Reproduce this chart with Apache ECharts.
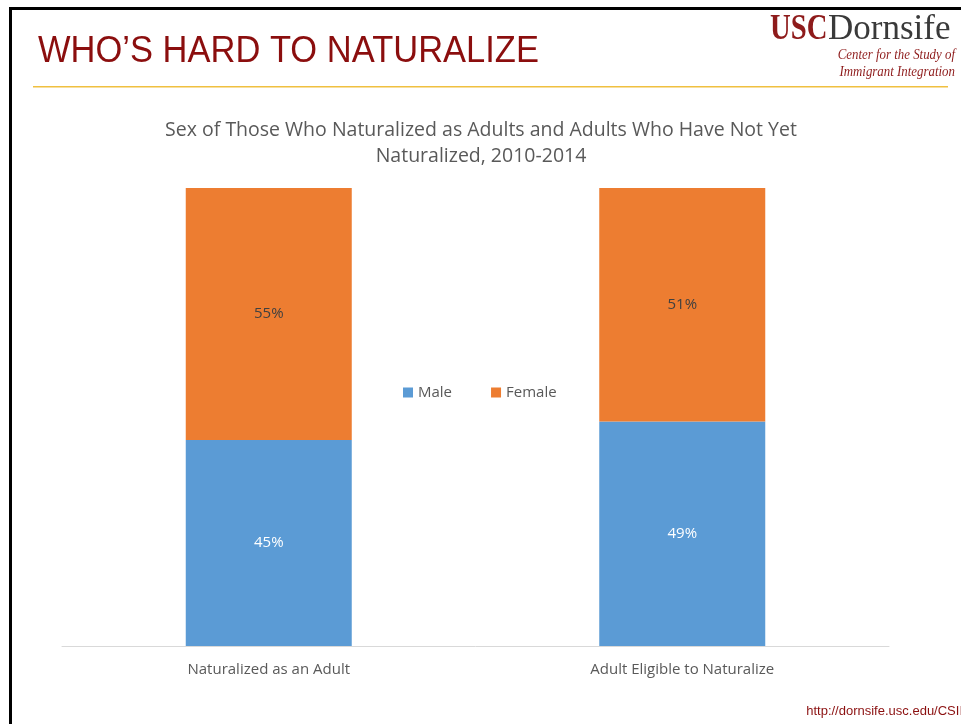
<!DOCTYPE html>
<html>
<head>
<meta charset="utf-8">
<script src="https://cdn.jsdelivr.net/npm/echarts@6/dist/echarts.min.js"></script>
<style>
html,body{margin:0;padding:0;background:#fff;}
#main{width:961px;height:724px;}
</style>
</head>
<body>
<div id="main"></div>
<script>
var categories = ['Naturalized as an Adult', 'Adult Eligible to Naturalize'];
var maleValues = [45, 49];
var femaleValues = [55, 51];
var seriesNames = ['Male', 'Female'];

var chart = echarts.init(document.getElementById('main'));
var FONT = '"Open Sans", Lato, sans-serif';
var option = {
  backgroundColor: '#ffffff',
  animation: false,
  title: {
    text: 'Sex of Those Who Naturalized as Adults and Adults Who Have Not Yet\nNaturalized, 2010-2014',
    left: 476, textAlign: 'center', top: 112,
    textStyle: {fontFamily: FONT, fontSize: 19.5, fontWeight: 'normal', color: '#595959', lineHeight: 26}
  },
  legend: {
    data: seriesNames,
    left: 398, top: 380,
    icon: 'rect', itemWidth: 10, itemHeight: 10, itemGap: 39,
    textStyle: {fontFamily: FONT, fontSize: 15, color: '#595959'}
  },
  grid: {left: 62, right: 72, top: 188, bottom: 78},
  xAxis: {
    type: 'category', data: categories,
    axisLine: {lineStyle: {color: '#d9d9d9', width: 1}},
    axisTick: {show: false},
    axisLabel: {fontFamily: FONT, fontSize: 15, color: '#595959', margin: 16}
  },
  yAxis: {type: 'value', min: 0, max: 100, show: false},
  series: [
    {
      name: seriesNames[0], type: 'bar', stack: 's', data: maleValues, barWidth: 166,
      itemStyle: {color: '#5b9bd5'},
      label: {show: true, position: 'inside', formatter: '{c}%', fontFamily: FONT, fontSize: 15, color: '#ffffff'}
    },
    {
      name: seriesNames[1], type: 'bar', stack: 's', data: femaleValues, barWidth: 166,
      itemStyle: {color: '#ed7d31'},
      label: {show: true, position: 'inside', formatter: '{c}%', fontFamily: FONT, fontSize: 15, color: '#404040'}
    }
  ],
  graphic: [
    {type: 'rect', shape: {x: 9, y: 7, width: 960, height: 3}, style: {fill: '#000'}},
    {type: 'rect', shape: {x: 9, y: 7, width: 3, height: 720}, style: {fill: '#000'}},
    {type: 'rect', shape: {x: 33, y: 86, width: 915, height: 1.5}, style: {fill: '#f0c040'}},
    {type: 'text', x: 38, y: 33, scaleY: 1.06, style: {text: 'WHO\u2019S HARD TO NATURALIZE', fontFamily: '"Liberation Sans", Arial, sans-serif', fontSize: 34.5, fill: '#8b0e0e'}},
    {type: 'text', x: 770, y: 12, scaleX: 0.82, style: {text: 'USC', fontFamily: '"Liberation Serif", serif', fontSize: 35, fontWeight: 'bold', fill: '#8e1b1b'}},
    {type: 'text', x: 828, y: 12, style: {text: 'Dornsife', fontFamily: '"Liberation Serif", serif', fontSize: 35, fill: '#3a3a3a'}},
    {type: 'text', x: 955, y: 48, scaleX: 0.92, style: {text: 'Center for the Study of', fontFamily: '"Liberation Serif", serif', fontSize: 14, fontStyle: 'italic', fill: '#8e1b1b', align: 'right'}},
    {type: 'text', x: 955, y: 65, scaleX: 0.92, style: {text: 'Immigrant Integration', fontFamily: '"Liberation Serif", serif', fontSize: 14, fontStyle: 'italic', fill: '#8e1b1b', align: 'right'}},
    {type: 'text', x: 963, y: 705, style: {text: 'http://dornsife.usc.edu/CSII', fontFamily: '"Liberation Sans", Arial, sans-serif', fontSize: 13, fill: '#8b1010', align: 'right'}}
  ]
};
chart.setOption(option);
</script>
</body>
</html>
